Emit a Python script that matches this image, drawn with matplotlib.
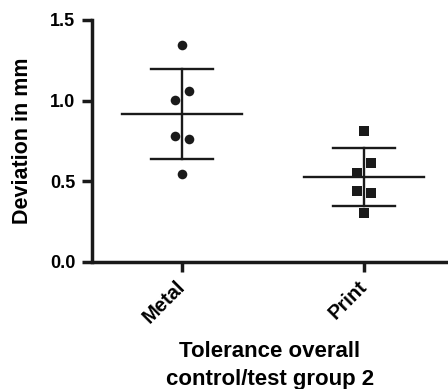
import matplotlib
matplotlib.use("Agg")
import matplotlib.pyplot as plt
import numpy as np

plt.rcParams['font.family'] = ['Liberation Sans', 'DejaVu Sans']

categories = ["Metal", "Print"]
metal_values = [1.345, 1.062, 1.004, 0.781, 0.762, 0.544]
metal_offsets = [0.0, 0.04, -0.04, -0.04, 0.04, 0.0]
print_values = [0.814, 0.616, 0.554, 0.442, 0.430, 0.302]
print_offsets = [0.0, 0.04, -0.04, -0.04, 0.04, 0.0]
markers = ["o", "s"]
y_ticks = [0.0, 0.5, 1.0, 1.5]
y_tick_labels = ["0.0", "0.5", "1.0", "1.5"]

groups = [metal_values, print_values]
offsets = [metal_offsets, print_offsets]

fig = plt.figure(figsize=(4.48, 3.89), dpi=100)
ax = fig.add_axes([92/448, 1-262/389, 1-92/448, (262-20)/389])

col = "#1a1a1a"
for i, (vals, offs, m) in enumerate(zip(groups, offsets, markers)):
    vals = np.array(vals)
    xs = i + np.array(offs)
    ax.scatter(xs, vals, marker=m, s=48 if m == "o" else 52, color=col, zorder=3, linewidths=0)
    mean = vals.mean()
    sd = vals.std(ddof=1)
    ax.plot([i-0.33, i+0.33], [mean, mean], color=col, lw=1.7, zorder=2)
    ax.plot([i-0.17, i+0.17], [mean+sd, mean+sd], color=col, lw=1.7, zorder=2)
    ax.plot([i-0.17, i+0.17], [mean-sd, mean-sd], color=col, lw=1.7, zorder=2)
    ax.plot([i, i], [mean-sd, mean+sd], color=col, lw=1.7, zorder=2)

ax.set_xlim(-0.495, 1.462)
ax.set_ylim(0, 1.5)
ax.spines['top'].set_visible(False)
ax.spines['right'].set_visible(False)
for s in ['left', 'bottom']:
    ax.spines[s].set_linewidth(2.5)
    ax.spines[s].set_color(col)
ax.spines['bottom'].set_capstyle('butt')
ax.set_yticks(y_ticks)
ax.set_yticklabels(y_tick_labels, fontsize=13, fontweight='bold')
ax.set_xticks(range(len(categories)))
ax.set_xticklabels(categories, fontsize=14.5, fontweight='bold', rotation=45,
                   ha='right', va='center', rotation_mode='anchor')
ax.tick_params(axis='both', length=7, width=2.5, color=col, direction='out')
ax.tick_params(axis='y', pad=5)
ax.tick_params(axis='x', pad=9)
ax.set_ylabel("Deviation in mm", fontsize=15.5, fontweight='bold', labelpad=12)
ax.set_xlabel("Tolerance overall\ncontrol/test group 2", fontsize=16, fontweight='bold', labelpad=10, linespacing=1.4)
ax.patch.set_visible(False)

fig.savefig("out.png", dpi=100)
